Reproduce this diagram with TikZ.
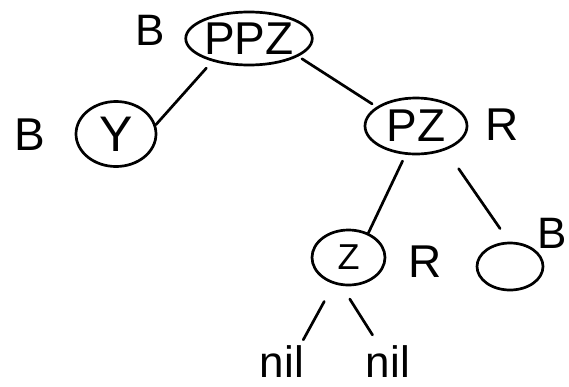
\documentclass[tikz,border=0pt]{standalone}
\usepackage{fontspec}
\setmainfont{Liberation Sans}
\usetikzlibrary{shapes.geometric}
\newcommand{\fs}[1]{\fontsize{#1}{#1}\selectfont}
\begin{document}
\begin{tikzpicture}[x=1pt,y=-1pt,
  every node/.style={inner sep=0pt},
  tnode/.style={draw, ellipse, line width=2.7pt},
  link/.style={line width=2.7pt, line cap=round},
  color tag/.style={font=\fs{46}}]
\useasboundingbox (0,0) rectangle (569,386);

% tree nodes
\node[tnode, minimum width=125pt, minimum height=53pt, font=\fs{46}] (ppz) at (249,38.5) {PPZ};
\node[tnode, minimum width=80pt, minimum height=65pt, font=\fs{50}] (y) at (116,134) {Y};
\node[tnode, minimum width=102pt, minimum height=56pt, font=\fs{46}] (pz) at (416,126) {PZ};
\node[tnode, minimum width=73pt, minimum height=55pt, font=\fs{36}] (z) at (348.5,257.5) {Z};
\node[tnode, minimum width=66pt, minimum height=47pt] (e) at (510,266.5) {};
\node[font=\fs{44}] (nil1) at (282,362) {nil};
\node[font=\fs{44}] (nil2) at (388,362) {nil};

% colour tags
\node[color tag, font=\fs{44}] (bppz) at (150,30) {B};
\node[color tag] (by) at (30,135) {B};
\node[color tag] (rpz) at (502,125) {R};
\node[color tag] (rz) at (425,262) {R};
\node[color tag, font=\fs{44}] (be) at (552,233) {B};

% edges
\draw[link, shorten <=9pt] (ppz.212) -- (y.13);
\draw[link, shorten <=4.3pt, shorten >=5.2pt] (ppz.-20.6) -- (pz.154.8);
\draw[link, shorten <=6.9pt] (pz.250) -- (z.51.6);
\draw[link, shorten <=22.6pt, shorten >=15.9pt] (pz.-39.8) -- (e.92.4);
\draw[link, shorten <=19.8pt, shorten >=6.9pt] (z.241.7) -- (nil1.42.8);
\draw[link, shorten <=15.6pt, shorten >=12.9pt] (z.256) -- (nil2.118);
\end{tikzpicture}
\end{document}
